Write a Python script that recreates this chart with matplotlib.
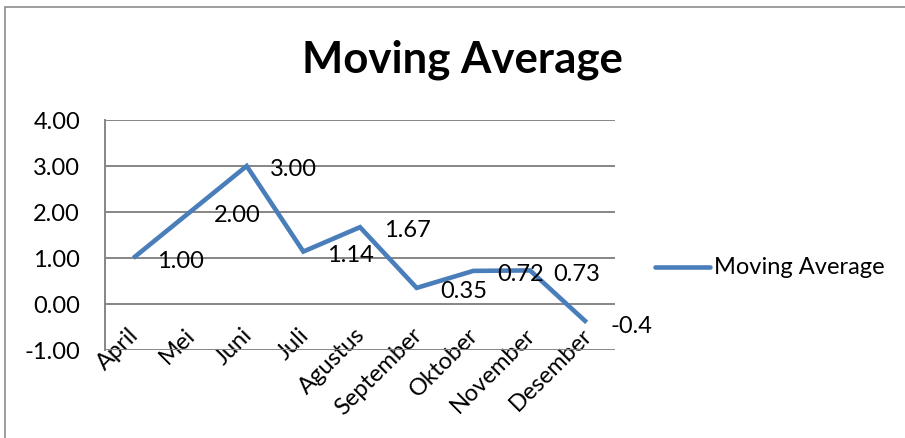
import matplotlib
matplotlib.use("Agg")
import matplotlib.pyplot as plt
import matplotlib.transforms as mtransforms
from matplotlib.patches import Rectangle
from matplotlib.lines import Line2D

months = ["April", "Mei", "Juni", "Juli", "Agustus", "September",
          "Oktober", "November", "Desember"]
moving_avg = [1.00, 2.00, 3.00, 1.14, 1.67, 0.35, 0.72, 0.73, -0.4]
value_labels = ["1.00", "2.00", "3.00", "1.14", "1.67", "0.35",
                "0.72", "0.73", "-0.4"]
y_ticks = [-1, 0, 1, 2, 3, 4]
series_name = "Moving Average"

plt.rcParams["font.family"] = ["Lato", "DejaVu Sans"]

W, H = 905, 439
fig = plt.figure(figsize=(W / 100, H / 100), dpi=100)
fig.patch.set_facecolor("white")

# outer chart border
fig.add_artist(Rectangle((5 / W, -0.05), 1.2, 1 - 8 / H + 0.05,
                         transform=fig.transFigure, fill=False,
                         edgecolor="#8c8c8c", linewidth=1.2))

ax = fig.add_axes([105 / W, 1 - 351 / H, 510 / W, 230 / H])
x = list(range(len(months)))
line_color = "#4a7ebb"
ax.plot(x, moving_avg, color=line_color, linewidth=3.3,
        solid_joinstyle="miter", solid_capstyle="butt", zorder=3)

fs = 17
for xi, yi, lab in zip(x, moving_avg, value_labels):
    ax.annotate(lab, (xi, yi), xytext=(17, -2), textcoords="offset points",
                ha="left", va="center", fontsize=fs, color="black", zorder=4)

ax.set_xlim(-0.5, len(months) - 0.5)
ax.set_ylim(-1, 4)
ax.set_yticks(y_ticks)
ax.set_yticklabels([f"{v:.2f}" for v in y_ticks])
ax.set_xticks(x)
ax.set_xticklabels(months, rotation=45, ha="right", va="center",
                   rotation_mode="anchor")
ax.tick_params(axis="both", length=0, labelsize=fs, colors="black")
ax.tick_params(axis="y", pad=18)
ax.tick_params(axis="x", pad=-14)
shift = mtransforms.ScaledTranslation(2 / 100, 0, fig.dpi_scale_trans)
for lbl in ax.get_xticklabels():
    lbl.set_transform(lbl.get_transform() + shift)

ax.grid(axis="y", color="#868686", linewidth=1.4)
ax.set_axisbelow(True)
for side in ["top", "right", "bottom"]:
    ax.spines[side].set_visible(False)
ax.spines["left"].set_color("#868686")
ax.spines["left"].set_linewidth(1.4)

fig.text(462 / W, 1 - 60 / H, series_name, ha="center", va="center",
         fontsize=31.5, fontweight="bold", color="black")

# legend
fig.add_artist(Line2D([655 / W, 710 / W], [1 - 268 / H, 1 - 268 / H],
                      transform=fig.transFigure, color=line_color,
                      linewidth=3.3, solid_capstyle="round"))
fig.text(714 / W, 1 - 268 / H, series_name, ha="left", va="center",
         fontsize=fs, color="black")

fig.savefig("out.png", dpi=100)
